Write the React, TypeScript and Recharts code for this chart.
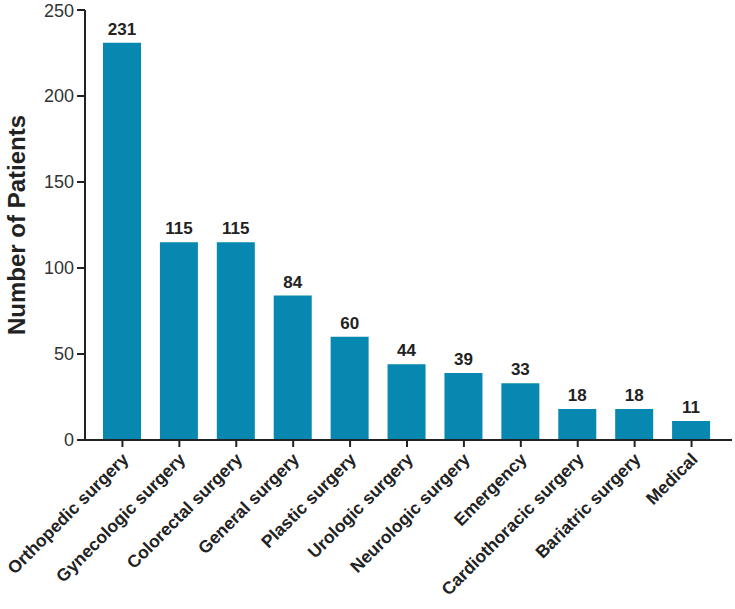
import React from 'react';
import { BarChart, Bar, XAxis, YAxis, LabelList } from 'recharts';

const categories = [
  'Orthopedic surgery',
  'Gynecologic surgery',
  'Colorectal surgery',
  'General surgery',
  'Plastic surgery',
  'Urologic surgery',
  'Neurologic surgery',
  'Emergency',
  'Cardiothoracic surgery',
  'Bariatric surgery',
  'Medical',
];
const patients = [231, 115, 115, 84, 60, 44, 39, 33, 18, 18, 11];
const yTicks = [0, 50, 100, 150, 200, 250];

const data = categories.map((name, i) => ({ name, value: patients[i] }));

const FONT = '"Liberation Sans", Arial, sans-serif';
const AXIS = '#222222';

function CategoryTick(props: any) {
  const { x, y, payload } = props;
  return (
    <g transform={`translate(${x},${y})`}>
      <text
        x={0}
        y={0}
        dx={-3}
        dy={13}
        textAnchor="end"
        transform="rotate(-45)"
        fontFamily={FONT}
        fontWeight="bold"
        fontSize={17.5}
        fill={AXIS}
      >
        {payload.value}
      </text>
    </g>
  );
}

export default function App() {
  return (
    <div style={{ position: 'absolute', left: 0, top: 0, background: '#fff' }}>
      <BarChart
        width={735}
        height={609}
        data={data}
        margin={{ top: 10, right: 3, left: 0, bottom: 0 }}
      >
        <XAxis
          dataKey="name"
          interval={0}
          height={169}
          tick={<CategoryTick />}
          tickSize={7}
          padding={{ left: 9, right: 12 }}
          axisLine={{ stroke: AXIS, strokeWidth: 2 }}
          tickLine={{ stroke: AXIS, strokeWidth: 2 }}
        />
        <YAxis
          width={85}
          domain={[0, 250]}
          ticks={yTicks}
          tickSize={8}
          tickMargin={3}
          axisLine={{ stroke: AXIS, strokeWidth: 2 }}
          tickLine={{ stroke: AXIS, strokeWidth: 2 }}
          tick={{ fontFamily: FONT, fontSize: 18, fill: '#333' }}
          label={{
            value: 'Number of Patients',
            angle: -90,
            position: 'insideLeft',
            offset: 16,
            style: { textAnchor: 'middle', fontFamily: FONT, fontWeight: 'bold', fontSize: 24, fill: AXIS },
          }}
        />
        <Bar dataKey="value" fill="#0788b0" barSize={38} isAnimationActive={false}>
          <LabelList
            dataKey="value"
            position="top"
            offset={8}
            style={{ fontFamily: FONT, fontWeight: 'bold', fontSize: 17, fill: AXIS }}
          />
        </Bar>
      </BarChart>
    </div>
  );
}
